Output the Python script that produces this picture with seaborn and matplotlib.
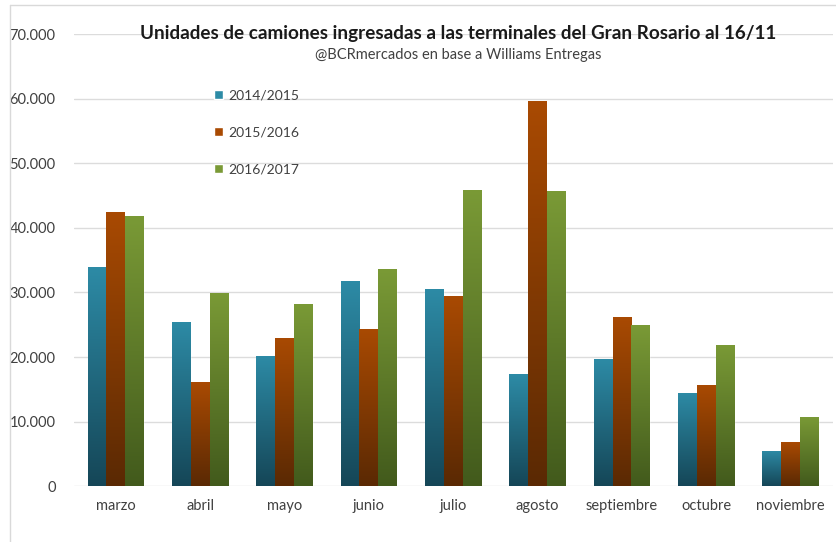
import matplotlib
matplotlib.use("Agg")
import matplotlib.pyplot as plt
import matplotlib.colors as mcolors
import numpy as np
import pandas as pd
import seaborn as sns

# meses y campañas
MESES = ['marzo', 'abril', 'mayo', 'junio', 'julio', 'agosto',
         'septiembre', 'octubre', 'noviembre']
CAMPANIAS = ['2014/2015', '2015/2016', '2016/2017']

c_2014 = [34000, 25400, 20200, 31700, 30600, 17300, 19700, 14500, 5500]
c_2015 = [42500, 16100, 23000, 24400, 29500, 59600, 26200, 15600, 6800]
c_2016 = [41900, 29900, 28200, 33600, 45900, 45700, 24900, 21900, 10700]

# color arriba / abajo de cada serie (degrade)
TOP = ['#2d8ba6', '#a94a02', '#7a9a36']
BOTTOM = ['#154657', '#5a2904', '#425a1c']


def main():
    df = pd.DataFrame({'mes': MESES * 3,
                       'campania': np.repeat(CAMPANIAS, len(MESES)),
                       'unidades': c_2014 + c_2015 + c_2016})

    sns.set_style('white')
    plt.rcParams['font.family'] = ['Lato', 'DejaVu Sans']

    fig = plt.figure(figsize=(8.37, 5.42), dpi=100)
    ax = fig.add_axes([0.088, 0.103, 0.907, 0.834])

    sns.barplot(data=df, x='mes', y='unidades', hue='campania', order=MESES,
                hue_order=CAMPANIAS, palette=TOP, width=0.67, gap=0,
                errorbar=None, saturation=1, ax=ax, zorder=3)

    # degrade vertical en cada barra
    ax.set_ylim(0, 70000)
    xlim = ax.get_xlim()
    for i, cont in enumerate(ax.containers):
        cmap = mcolors.LinearSegmentedColormap.from_list('g', [BOTTOM[i], TOP[i]])
        grad = np.linspace(0, 1, 256).reshape(-1, 1)
        for p in cont.patches:
            x0, y0 = p.get_x(), p.get_y()
            w, h = p.get_width(), p.get_height()
            im = ax.imshow(grad, cmap=cmap, origin='lower', aspect='auto',
                           extent=[x0, x0 + w, y0, y0 + h], zorder=3)
            im.set_clip_path(p)
            p.set_facecolor('none')
            p.set_edgecolor((1, 1, 1, 0.35))
            p.set_linewidth(0.6)
    ax.set_xlim(xlim)
    ax.set_ylim(0, 70000)

    ax.set_yticks(np.arange(0, 70001, 10000))
    ax.set_yticklabels([f'{v:,}'.replace(',', '.') for v in range(0, 70001, 10000)])
    ax.yaxis.grid(True, color='#dcdcdc', linewidth=1, zorder=0)
    ax.set_axisbelow(True)
    for s in ax.spines.values():
        s.set_visible(False)
    ax.tick_params(axis='both', length=0, labelsize=10.5, colors='#404040')
    ax.tick_params(axis='y', pad=13)
    ax.tick_params(axis='x', pad=9)
    ax.set_xlabel('')
    ax.set_ylabel('')

    # leyenda
    handles, labels = ax.get_legend_handles_labels()
    for h, c in zip(handles, TOP):
        h.set_facecolor(c)
    ax.legend(handles, labels, loc='upper left', bbox_to_anchor=(0.168, 0.906),
              frameon=False, fontsize=10, labelspacing=1.8, handlelength=0.65,
              handleheight=0.65, handletextpad=0.4, labelcolor='#404040')

    fig.text(0.547, 0.938, 'Unidades de camiones ingresadas a las terminales del Gran Rosario al 16/11',
             ha='center', va='center', fontsize=13.6, fontweight='bold', color='#1a1a1a')
    fig.text(0.547, 0.898, '@BCRmercados en base a Williams Entregas',
             ha='center', va='center', fontsize=10.5, color='#404040')

    # borde del area del grafico
    fig.add_artist(plt.Line2D([0.012, 1.0], [0.99, 0.99], color='#d9d9d9', lw=1))
    fig.add_artist(plt.Line2D([0.012, 0.012], [0.0, 0.99], color='#d9d9d9', lw=1))

    fig.savefig('out.png', dpi=100)


if __name__ == '__main__':
    main()
